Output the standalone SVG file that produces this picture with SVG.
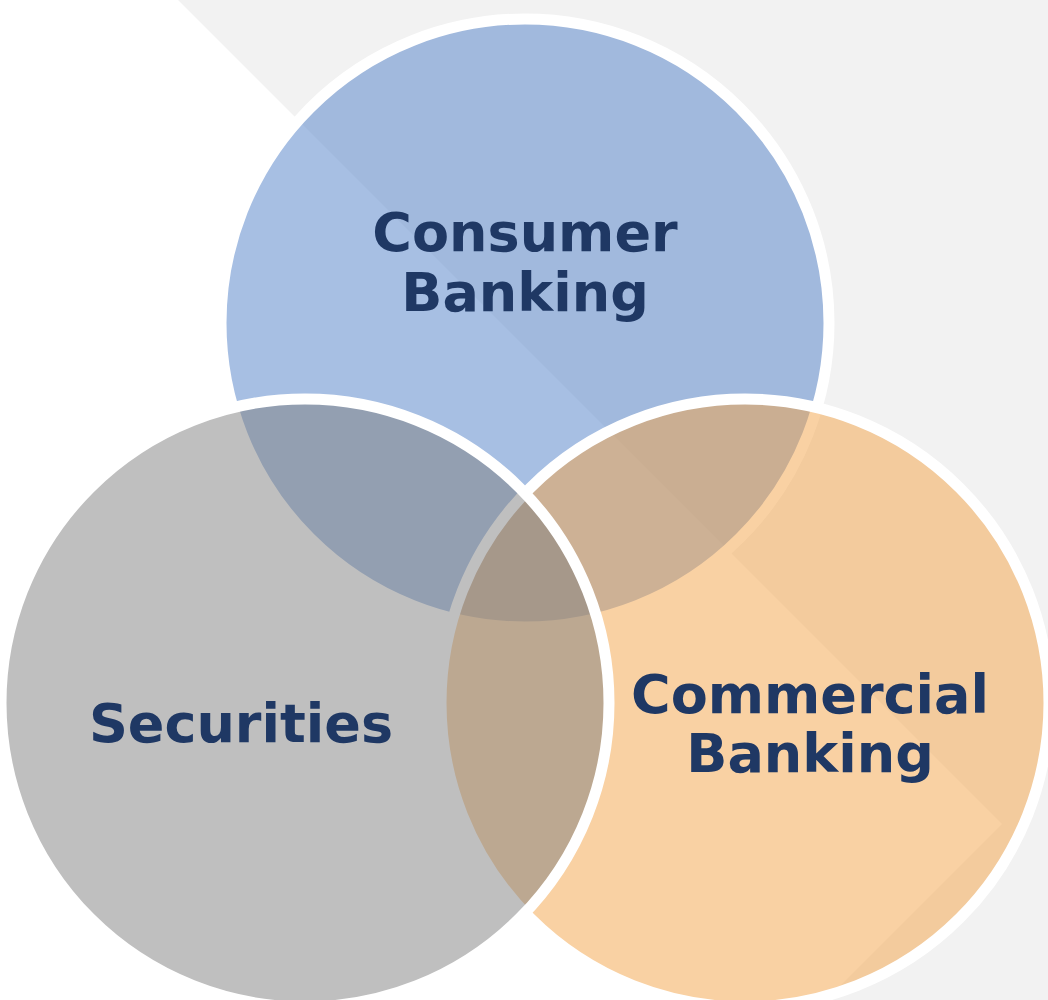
<svg xmlns="http://www.w3.org/2000/svg" width="1048" height="1000" viewBox="0 0 1048 1000">
<style>
.c{stroke:#ffffff;stroke-width:11;fill-opacity:0.5}
.t{font-family:"DejaVu Sans",Verdana,sans-serif;font-weight:bold;font-size:54px;fill:#1f3864;text-anchor:middle}
</style>
<g id="background">
<rect x="0" y="0" width="1048" height="1000" fill="#f2f2f2"/>
<polygon points="0,0 178,0 1002,824 826,1000 0,1000" fill="#ffffff"/>
</g>
<g id="consumer-banking">
<circle class="c" cx="525" cy="323" r="304" fill="#4f7fc7"/>
<text class="t" x="525" y="251">Consumer</text>
<text class="t" x="525" y="311">Banking</text>
</g>
<g id="commercial-banking">
<circle class="c" cx="745" cy="703" r="304" fill="#f3a347"/>
</g>
<g id="securities">
<circle class="c" cx="305" cy="703" r="304" fill="#7f7f7f"/>
<text class="t" x="241" y="742">Securities</text>
</g>
<g id="commercial-banking-label">
<text class="t" x="810" y="713">Commercial</text>
<text class="t" x="810" y="772">Banking</text>
</g>
<g id="connectors"/>
</svg>
